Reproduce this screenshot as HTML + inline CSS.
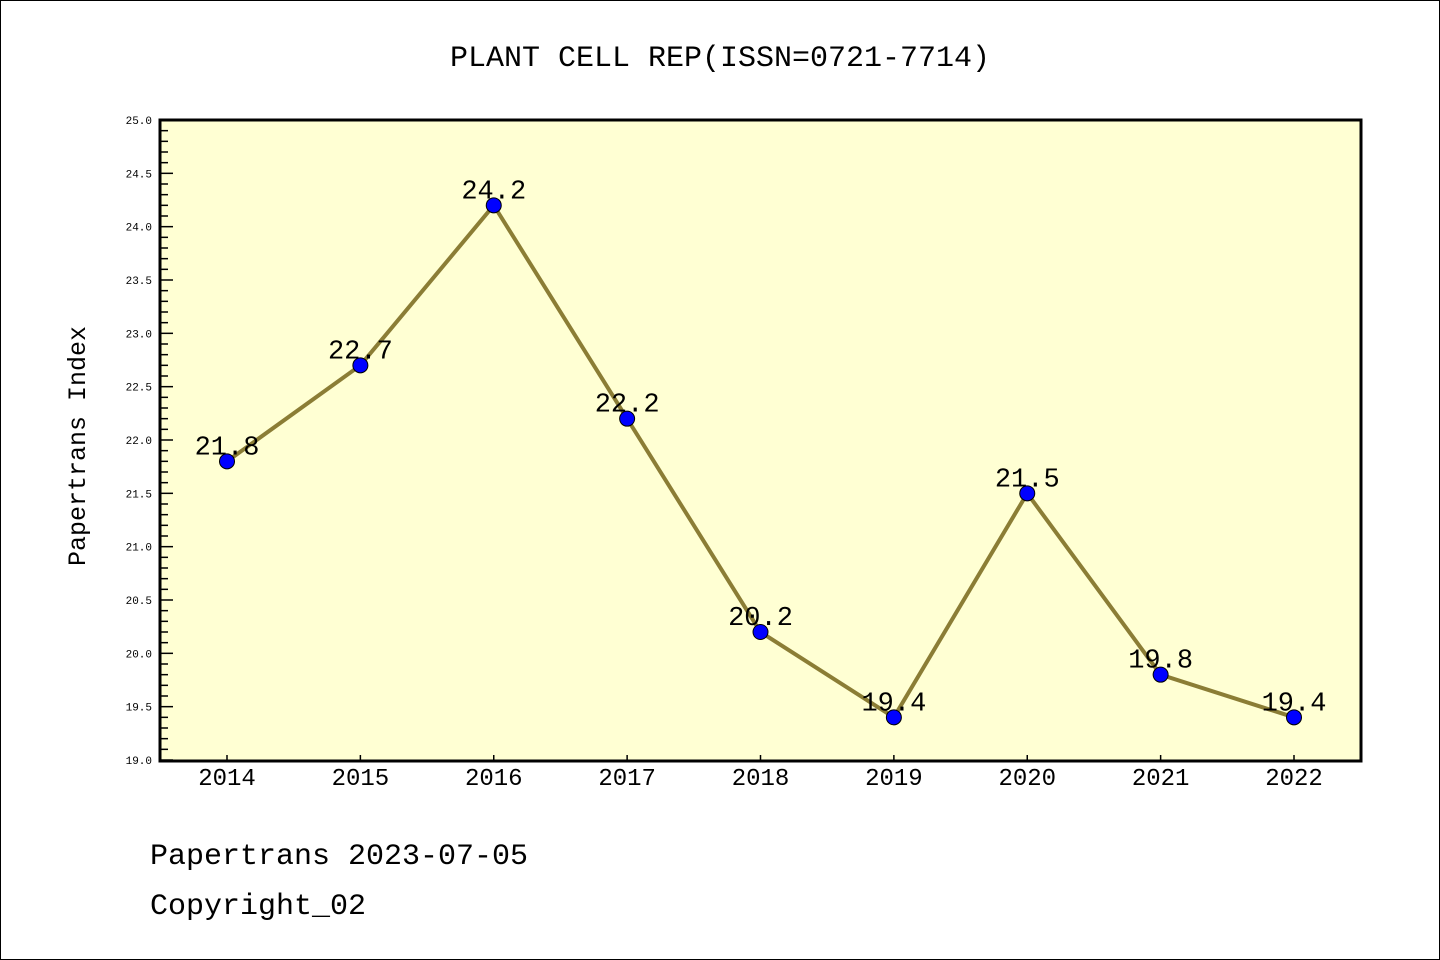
<!DOCTYPE html>
<html><head><meta charset="utf-8"><style>
body{margin:0;background:#fff}
svg{display:block}
text{font-family:"Liberation Mono","DejaVu Sans Mono","Noto Sans CJK SC",monospace}
</style></head><body>
<svg id="chart" width="1440" height="960" xmlns="http://www.w3.org/2000/svg">
<rect x="0.5" y="0.5" width="1439" height="959" fill="#fff" stroke="#000"/>
<text x="720" y="66" font-size="30" text-anchor="middle">PLANT CELL REP(ISSN=0721-7714)</text>
<rect x="160" y="120" width="1201" height="641" fill="#ffffd3"/>
<g id="yaxis"></g>
<g id="xaxis"></g>
<g id="series"></g>
<rect x="160" y="120" width="1201" height="641" fill="none" stroke="#000" stroke-width="3"/>
<text transform="translate(85,446) rotate(-90)" font-size="25" text-anchor="middle">Papertrans Index</text>
<text x="150" y="864" font-size="30">Papertrans 2023-07-05</text>
<text x="150" y="914" font-size="30">Copyright_02</text>
</svg>
<script>
const years=["2014","2015","2016","2017","2018","2019","2020","2021","2022"];
const values=[21.8,22.7,24.2,22.2,20.2,19.4,21.5,19.8,19.4];
const valueLabels=["21.8","22.7","24.2","22.2","20.2","19.4","21.5","19.8","19.4"];
const yTicks=["19.0","19.5","20.0","20.5","21.0","21.5","22.0","22.5","23.0","23.5","24.0","24.5","25.0"];
(function(){
const ns="http://www.w3.org/2000/svg";
const yMin=19,yMax=25,yTop=120,yBot=760;
const x0=227,dx=(1294-227)/(years.length-1);
function X(i){return x0+i*dx;}
function Y(v){return yBot-(v-yMin)/(yMax-yMin)*(yBot-yTop);}
function mk(t,a,p){const e=document.createElementNS(ns,t);for(const k in a)e.setAttribute(k,a[k]);p.appendChild(e);return e;}
const ya=document.getElementById('yaxis');
for(let k=0;k<=60;k++){const v=yMin+k*0.1;const y=Y(v);const major=k%5==0;
 const l=mk('line',{x1:160,x2:160+(major?13:8),y1:y,y2:y,stroke:'#000','stroke-width':1.5},ya);
 
 }
yTicks.forEach(t=>{const e=mk('text',{x:152,y:Y(parseFloat(t))+4,'font-size':11,'text-anchor':'end','font-family':'DejaVu Sans,sans-serif'},ya);e.textContent=t;
 
 });
const xa=document.getElementById('xaxis');
years.forEach((yr,i)=>{const l=mk('line',{x1:X(i),x2:X(i),y1:761,y2:755,stroke:'#000','stroke-width':1.5},xa);
 
 
 const t=mk('text',{x:X(i),y:785,'font-size':24,'text-anchor':'middle','font-family':'Liberation Sans,sans-serif'},xa);t.textContent=yr;
 
 });
const sg=document.getElementById('series');
const pl=mk('polyline',{points:values.map((v,i)=>X(i)+','+Y(v)).join(' '),fill:'none',stroke:'#8b7d35','stroke-width':4},sg);


values.forEach((v,i)=>{const c=mk('circle',{cx:X(i),cy:Y(v),r:7.5,fill:'#0000ff',stroke:'#000','stroke-width':1},sg);
 
 
 const t=mk('text',{x:X(i),y:Y(v)-7,'font-size':27,'text-anchor':'middle','font-family':'Liberation Sans,sans-serif'},sg);t.textContent=valueLabels[i];
 
 });
})();
</script>
</body></html>
